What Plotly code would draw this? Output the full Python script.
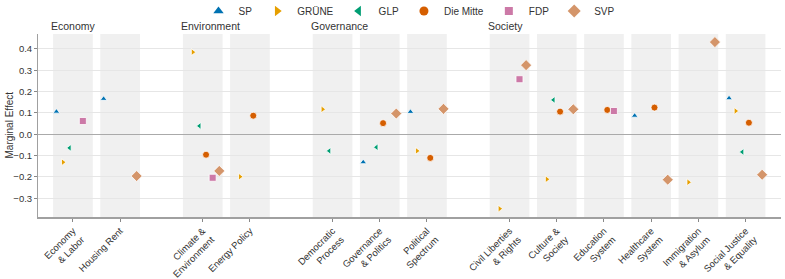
import plotly.graph_objects as go

# ---- data ----
groups = ["Economy", "Environment", "Governance", "Society"]
group_sizes = [2, 2, 3, 6]
categories = [
    "Economy<br>& Labor", "Housing Rent",
    "Climate &<br>Environment", "Energy Policy",
    "Democratic<br>Process", "Governance<br>& Politics", "Political<br>Spectrum",
    "Civil Liberties<br>& Rights", "Culture &<br>Society", "Education<br>System",
    "Healthcare<br>System", "Immigration<br>& Asylum", "Social Justice<br>& Equality",
]
parties = ["SP", "GRÜNE", "GLP", "Die Mitte", "FDP", "SVP"]
sp = [0.106, 0.166, None, None, None, -0.131, 0.105, None, None, None, 0.087, None, 0.169]
gruene = [-0.131, None, 0.385, -0.199, 0.117, None, -0.078, -0.349, -0.211, None, None, -0.225, 0.109]
glp = [-0.064, None, 0.039, None, -0.078, -0.061, None, None, 0.161, None, None, None, -0.083]
mitte = [None, None, -0.096, 0.087, None, 0.052, -0.111, None, 0.106, 0.114, 0.125, None, 0.054]
fdp = [0.062, None, -0.204, None, None, None, None, 0.258, None, 0.109, None, None, None]
svp = [None, -0.196, -0.172, None, None, 0.097, 0.119, 0.324, 0.117, None, -0.213, 0.432, -0.190]
y_ticks = [-0.3, -0.2, -0.1, 0.0, 0.1, 0.2, 0.3, 0.4]

series = [sp, gruene, glp, mitte, fdp, svp]
colors = ["#0072B2", "#E69F00", "#009E73", "#D55E00", "#CC79A7", "#D4956A"]
symbols = ["triangle-up", "triangle-right", "triangle-left", "circle", "square", "diamond"]
sizes = [6, 6, 6, 7, 7, 8.5]
legend_sizes = [9, 9, 9, 9, 8, 10]

# category positions with gaps between groups
GAP = 0.75
pos = []
idx = 0
for gi, n in enumerate(group_sizes):
    for _ in range(n):
        pos.append(idx + gi * GAP)
        idx += 1

DODGE = 0.14
offsets = [(k - 2.5) * DODGE for k in range(len(parties))]
BAND = 0.42

fig = go.Figure()

for k, name in enumerate(parties):
    xs, ys = [], []
    for i, v in enumerate(series[k]):
        if v is not None:
            xs.append(pos[i] + offsets[k])
            ys.append(v)
    fig.add_trace(go.Scatter(
        x=xs, y=ys, mode="markers", name=name, showlegend=False,
        marker=dict(symbol=symbols[k], size=sizes[k], color=colors[k],
                    line=dict(color="white", width=0.8)),
    ))
    # legend entry
    fig.add_trace(go.Scatter(
        x=[None], y=[None], mode="markers", name=name, showlegend=True,
        marker=dict(symbol=symbols[k], size=legend_sizes[k], color=colors[k]),
    ))

shapes = []
for p in pos:
    shapes.append(dict(type="rect", xref="x", yref="paper", x0=p - BAND, x1=p + BAND,
                       y0=0, y1=1, fillcolor="#F0F0F0", line=dict(width=0), layer="below"))

annotations = []
start = 0
for gi, g in enumerate(groups):
    annotations.append(dict(x=pos[start] - BAND, y=1, xref="x", yref="paper",
                            text=g, showarrow=False, xanchor="left", yanchor="bottom",
                            xshift=-4, yshift=0,
                            font=dict(size=10.5, color="#333333")))
    start += group_sizes[gi]

# y-axis title
annotations.append(dict(x=0, y=0.5, xref="paper", yref="paper", text="Marginal Effect",
                        textangle=-90, showarrow=False, xanchor="center", yanchor="middle",
                        xshift=-29, font=dict(size=10, color="#333333")))

fig.update_layout(
    width=785, height=279,
    margin=dict(l=38, r=4, t=34, b=62, autoexpand=False),
    plot_bgcolor="white", paper_bgcolor="white",
    font=dict(family="Liberation Sans, Arial, sans-serif", color="#333333", size=10),
    shapes=shapes, annotations=annotations,
    showlegend=True,
    legend=dict(orientation="h", x=0.5, xanchor="center", xref="paper",
                y=1 - 11 / 279, yanchor="middle", yref="container",
                font=dict(size=10, color="#333333"), bgcolor="rgba(0,0,0,0)"),
    xaxis=dict(range=[-0.74, 15.0], tickmode="array", tickvals=pos, ticktext=categories,
               tickangle=-45, showgrid=False, zeroline=False, showline=True, automargin=False,
               linecolor="#A0A0A0", linewidth=1.5, ticks="outside", ticklen=3,
               tickcolor="#888888", tickfont=dict(size=9.5, color="#333333")),
    yaxis=dict(range=[-0.388, 0.47], tickmode="array", tickvals=y_ticks,
               ticktext=[f"{v:.1f}".replace("-", "\u2212") for v in y_ticks],
               showgrid=True, gridcolor="#E6E6E6", gridwidth=1, automargin=False,
               zeroline=True, zerolinecolor="#AAAAAA", zerolinewidth=1,
               showline=True, linecolor="#A0A0A0", linewidth=1,
               ticks="outside", ticklen=3, tickcolor="#888888",
               tickfont=dict(size=9.5, color="#333333")),
)

fig.write_html("out.html", config={"displayModeBar": False},
               post_script="document.body.style.margin='0';document.body.style.padding='0';")
